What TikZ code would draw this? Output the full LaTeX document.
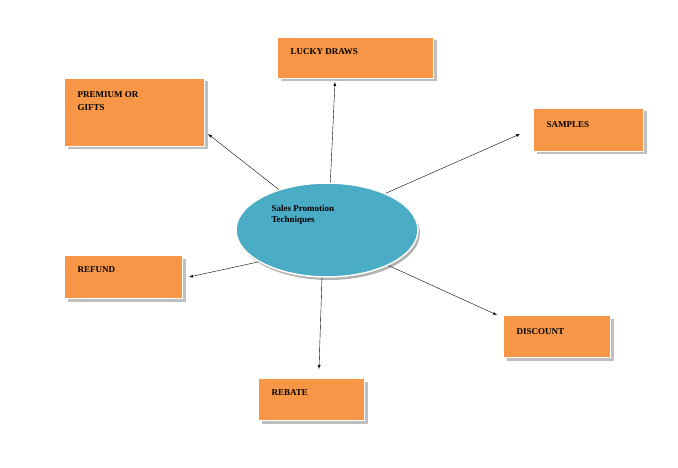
\documentclass[tikz,border=0pt]{standalone}
\usepackage{fontspec}
\setmainfont{Liberation Serif}
\usetikzlibrary{shapes,arrows,shadows}
\definecolor{promo}{HTML}{F79646}
\definecolor{hub}{HTML}{4BACC6}

\tikzset{
  tech/.style={draw=white, line width=1pt, fill=promo, anchor=north west,
    inner sep=0pt,
    drop shadow={shadow xshift=3pt, shadow yshift=-3pt, fill=gray!50, opacity=1}},
  techlabel/.style={font=\bfseries\small, anchor=north west, align=left},
  link/.style={-latex, thin}
}

\begin{document}
\begin{tikzpicture}[x=1pt, y=-1pt]
        \useasboundingbox (0,0) rectangle (678,468);

        \node[ellipse, fill=hub, draw=white, line width=1.5pt, minimum width=182pt, minimum height=94pt,
              drop shadow={shadow xshift=2pt, shadow yshift=-3pt, fill=gray!60, opacity=1}]
              (hub) at (327,230) {};
        \node[techlabel] (hubtext) at (268,202) {Sales Promotion\\Techniques};

        \node[tech, minimum width=156pt, minimum height=41pt] (lucky) at (277,37) {};
        \node[techlabel, xshift=10pt, yshift=-8pt] (luckytext) at (lucky.north west) {LUCKY DRAWS};
        \node[tech, minimum width=140pt, minimum height=68pt] (premium) at (64,78) {};
        \node[techlabel, xshift=10pt, yshift=-10pt] (premiumtext) at (premium.north west) {PREMIUM OR\\[2pt]GIFTS};
        \node[tech, minimum width=110pt, minimum height=43pt] (samples) at (533,108) {};
        \node[techlabel, xshift=10pt, yshift=-10pt] (samplestext) at (samples.north west) {SAMPLES};
        \node[tech, minimum width=118pt, minimum height=43pt] (refund) at (64,255) {};
        \node[techlabel, xshift=10pt, yshift=-8pt] (refundtext) at (refund.north west) {REFUND};
        \node[tech, minimum width=107pt, minimum height=42pt] (discount) at (503,315) {};
        \node[techlabel, xshift=10pt, yshift=-10pt] (discounttext) at (discount.north west) {DISCOUNT};
        \node[tech, minimum width=106pt, minimum height=42pt] (rebate) at (258,378) {};
        \node[techlabel, xshift=10pt, yshift=-8pt] (rebatetext) at (rebate.north west) {REBATE};

        \coordinate (toLucky) at (335,82);
        \coordinate (toPremium) at (208,134);
        \coordinate (toSamples) at (520,134);
        \coordinate (toRefund) at (189,277);
        \coordinate (toDiscount) at (497,315);
        \coordinate (toRebate) at (319,369);

        \draw[link] (hub.86) -- (toLucky);
        \draw[link] (hub.140) -- (toPremium);
        \draw[link] (hub.32) -- (toSamples);
        \draw[link] (hub.205) -- (toRefund);
        \draw[link] (hub.-30) -- (toDiscount);
        \draw[link] (hub.-96) -- (toRebate);
\end{tikzpicture}
\end{document}
